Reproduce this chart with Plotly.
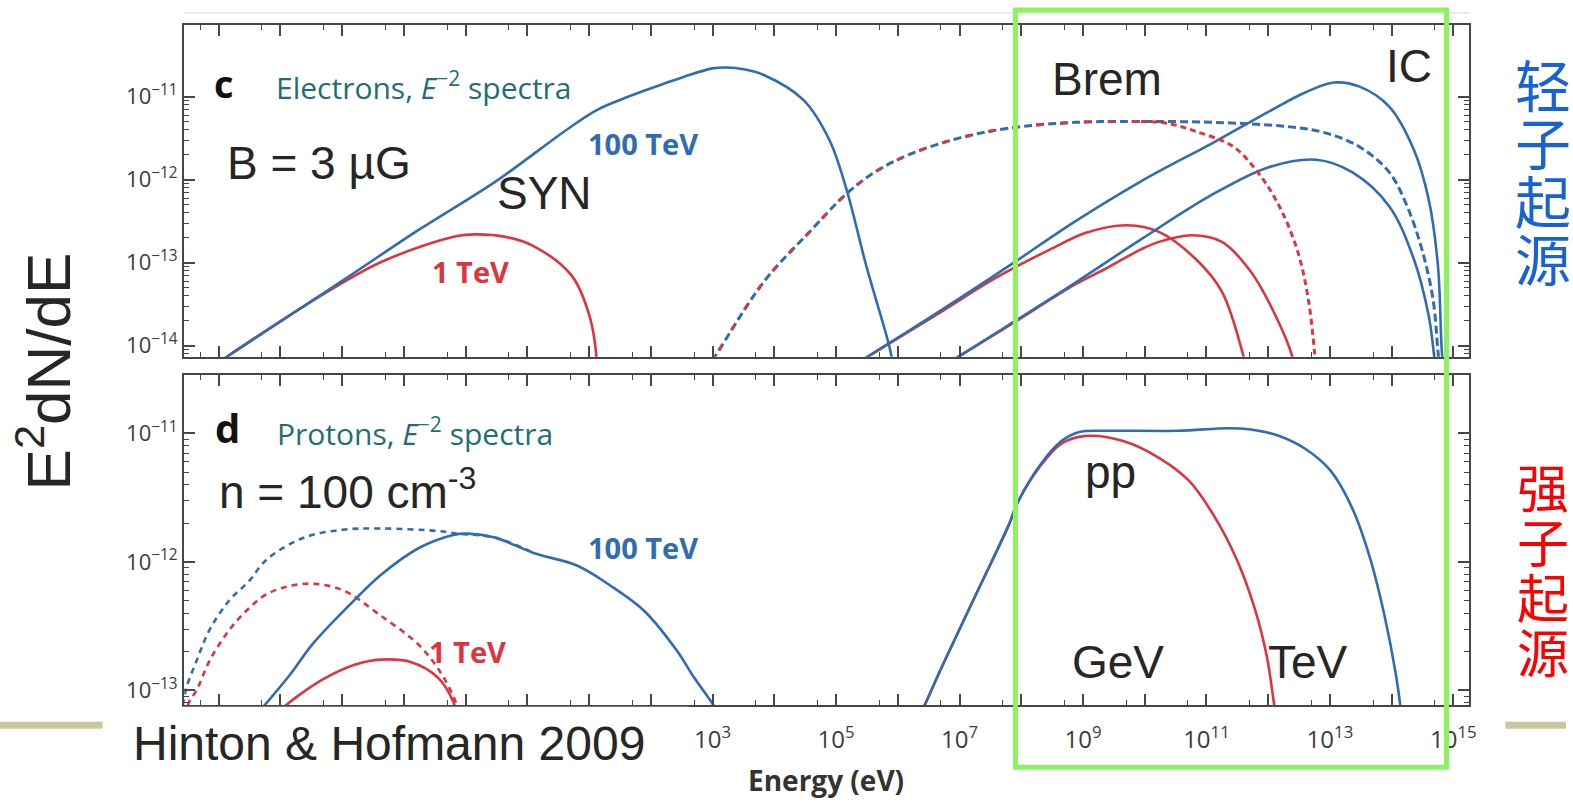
import plotly.graph_objects as go

W, H = 1573, 804

# ---------------- panel c : electrons, E^-2 spectra (log10 E [eV], log10 E^2 dN/dE) ----------------
syn_100tev_logE = [-4.90, -3.00, -1.75, -0.53, 0.71, 1.13, 1.50, 1.89, 2.54, 3.00, 3.23, 3.50, 3.83, 4.47, 4.89, 5.17, 5.49, 5.86, 5.92]
syn_100tev_logF = [-14.15, -13.22, -12.60, -12.03, -11.36, -11.16, -11.04, -10.93, -10.76, -10.66, -10.65, -10.67, -10.74, -11.04, -11.52, -12.12, -13.04, -14.00, -14.22]

syn_1tev_logE = [-4.90, -3.61, -2.36, -1.14, -0.83, -0.35, 0.10, 0.72, 1.02, 1.13]
syn_1tev_logF = [-14.15, -13.52, -12.99, -12.68, -12.66, -12.69, -12.80, -13.16, -13.68, -14.22]

brem_shared_logE = [2.89, 3.04, 3.83, 4.57, 5.17, 5.65, 6.18, 6.99, 7.80, 8.88, 9.94]
brem_shared_logF = [-14.30, -14.13, -13.23, -12.63, -12.17, -11.90, -11.70, -11.50, -11.38, -11.31, -11.30]
brem_1tev_tail_logE = [10.36, 10.83, 11.43, 11.83, 12.18, 12.48, 12.65, 12.75, 12.78]
brem_1tev_tail_logF = [-11.32, -11.42, -11.60, -11.91, -12.32, -12.87, -13.44, -14.07, -14.30]
brem_100tev_tail_logE = [11.12, 12.30, 12.89, 13.47, 13.96, 14.25, 14.49, 14.67, 14.75, 14.78]
brem_100tev_tail_logF = [-11.31, -11.36, -11.43, -11.60, -11.91, -12.32, -12.84, -13.44, -14.07, -14.30]

ic_a_100tev_logE = [5.16, 5.52, 6.73, 7.80, 8.88, 9.94, 11.12, 12.01, 12.60, 13.07, 13.48, 13.96, 14.36, 14.60, 14.75, 14.81, 14.84]
ic_a_100tev_logF = [-14.30, -14.13, -13.56, -13.04, -12.50, -12.02, -11.55, -11.18, -10.95, -10.83, -10.88, -11.12, -11.64, -12.24, -13.04, -14.04, -14.30]
ic_a_1tev_logE = [5.16, 5.52, 6.73, 7.57, 8.47, 9.05, 9.71, 10.23, 10.83, 11.25, 11.60, 11.65]
ic_a_1tev_logF = [-14.30, -14.13, -13.58, -13.19, -12.84, -12.64, -12.55, -12.63, -12.96, -13.35, -14.13, -14.30]

ic_b_100tev_logE = [6.63, 6.99, 7.80, 8.88, 9.94, 11.12, 12.01, 12.78, 13.36, 13.96, 14.36, 14.60, 14.68, 14.71]
ic_b_100tev_logF = [-14.30, -14.13, -13.75, -13.24, -12.72, -12.17, -11.85, -11.76, -11.91, -12.32, -12.96, -13.64, -14.07, -14.30]
ic_b_1tev_logE = [6.63, 6.99, 7.80, 8.88, 9.35, 9.94, 10.23, 10.76, 11.25, 11.72, 12.12, 12.39, 12.43]
ic_b_1tev_logF = [-14.30, -14.13, -13.76, -13.26, -13.08, -12.84, -12.75, -12.67, -12.75, -13.11, -13.64, -14.13, -14.30]

# ---------------- panel d : protons, E^-2 spectra ----------------
sec_100tev_logE = [-5.60, -5.53, -5.36, -5.15, -4.83, -4.51, -4.22, -3.61, -2.99, -2.37, -1.45, -1.14, -0.53, 0.10]
sec_100tev_logF = [-13.20, -12.99, -12.77, -12.53, -12.30, -12.15, -11.98, -11.81, -11.75, -11.74, -11.76, -11.78, -11.81, -11.93]
sec_1tev_logE = [-5.55, -5.48, -5.36, -5.15, -4.83, -4.51, -4.22, -3.87, -3.48, -2.99, -2.37, -1.75, -1.38, -1.16, -1.10]
sec_1tev_logF = [-13.20, -13.09, -13.00, -12.77, -12.53, -12.36, -12.25, -12.19, -12.17, -12.22, -12.42, -12.65, -12.88, -13.09, -13.17]

syn_p_100tev_logE = [-4.32, -3.85, -3.48, -2.87, -2.37, -1.75, -1.20, -0.96, -0.53, 0.10, 0.81, 1.33, 1.89, 2.42, 2.70, 3.02, 3.07]
syn_p_100tev_logF = [-13.15, -12.88, -12.64, -12.33, -12.10, -11.89, -11.79, -11.78, -11.81, -11.93, -12.03, -12.18, -12.38, -12.69, -12.90, -13.12, -13.17]
syn_p_1tev_logE = [-4.00, -3.71, -3.30, -2.80, -2.37, -1.88, -1.45, -1.20, -1.16]
syn_p_1tev_logF = [-13.15, -13.04, -12.91, -12.80, -12.76, -12.78, -12.90, -13.09, -13.17]

pp_100tev_logE = [6.38, 6.43, 6.73, 7.26, 7.80, 7.94, 8.30, 8.65, 8.94, 9.36, 10.54, 11.36, 11.72, 12.18, 12.60, 13.01, 13.36, 13.65, 13.89, 14.07, 14.14, 14.15]
pp_100tev_logF = [-13.17, -13.12, -12.80, -12.26, -11.71, -11.54, -11.25, -11.06, -10.99, -10.98, -10.98, -10.96, -10.97, -11.02, -11.12, -11.29, -11.58, -11.97, -12.43, -12.88, -13.12, -13.17]
pp_1tev_logE = [6.38, 6.43, 6.73, 7.26, 7.80, 7.94, 8.30, 8.65, 9.05, 9.65, 10.23, 10.72, 11.12, 11.48, 11.78, 11.98, 12.10, 12.12]
pp_1tev_logF = [-13.17, -13.12, -12.80, -12.26, -11.71, -11.54, -11.26, -11.08, -11.02, -11.06, -11.19, -11.37, -11.64, -11.97, -12.36, -12.74, -13.12, -13.17]

# axis decades
x_decades = list(range(-5, 16))
c_decades = [-11, -12, -13, -14]
d_decades = [-11, -12, -13]

# ---------------- styling ----------------
BLUE = "#2f6db3"
RED = "#dd3440"
TEAL = "#1d6e77"
FRAME = "#474747"
INK = "#262626"
SANS = "Liberation Sans, Arial, sans-serif"
FIG_FONT = "Open Sans, Liberation Sans, sans-serif"
CJK = "Noto Sans CJK SC"

LEFT, RIGHT = 185, 1476
C_TOP, C_BOT = 25, 358
D_TOP, D_BOT = 376, 708
X_RANGE = [-5.56, 15.26]
C_RANGE = [-14.133, -10.136]
D_RANGE = [-13.116, -10.543]


def lin(vals):
    return [10.0 ** v for v in vals]


fig = go.Figure()


def curve(logE, logF, color, xa, ya, dash="solid", width=2.6):
    fig.add_trace(go.Scatter(
        x=lin(logE), y=lin(logF), mode="lines",
        line=dict(color=color, width=width, dash=dash, shape="spline", smoothing=1.0),
        xaxis=xa, yaxis=ya, hoverinfo="skip", showlegend=False))


# panel c
curve(syn_1tev_logE, syn_1tev_logF, RED, "x", "y")
curve(syn_100tev_logE, syn_100tev_logF, BLUE, "x", "y")
curve(ic_a_1tev_logE, ic_a_1tev_logF, RED, "x", "y")
curve(ic_b_1tev_logE, ic_b_1tev_logF, RED, "x", "y")
curve(ic_a_100tev_logE, ic_a_100tev_logF, BLUE, "x", "y")
curve(ic_b_100tev_logE, ic_b_100tev_logF, BLUE, "x", "y")
curve(brem_shared_logE + brem_100tev_tail_logE, brem_shared_logF + brem_100tev_tail_logF,
      BLUE, "x", "y", dash="8px,4px", width=3)
curve(brem_shared_logE, brem_shared_logF, RED, "x", "y", dash="6px,18px", width=3)
curve(brem_shared_logE[-1:] + brem_1tev_tail_logE, brem_shared_logF[-1:] + brem_1tev_tail_logF,
      RED, "x", "y", dash="6px,4px", width=3)

# panel d
curve(sec_1tev_logE, sec_1tev_logF, RED, "x2", "y2", dash="6px,5px")
curve(sec_100tev_logE, sec_100tev_logF, BLUE, "x2", "y2", dash="6px,5px")
curve(syn_p_1tev_logE, syn_p_1tev_logF, RED, "x2", "y2")
curve(syn_p_100tev_logE, syn_p_100tev_logF, BLUE, "x2", "y2")
curve(pp_1tev_logE, pp_1tev_logF, RED, "x2", "y2")
curve(pp_100tev_logE, pp_100tev_logF, BLUE, "x2", "y2")

# ---------------- axes ----------------
tick_font = dict(family=FIG_FONT, size=22, color="#3c3c3c")
x_minor = dict(tickmode="array", tickvals=[5 * 10.0 ** n for n in range(-6, 15)],
               ticks="inside", ticklen=5, tickwidth=1.3, tickcolor=FRAME, showgrid=False)


def y_minor(decades):
    vals = [k * 10.0 ** (n - 1) for n in decades + [min(decades)] for k in range(2, 10)]
    return dict(tickmode="array", tickvals=vals, ticks="inside", ticklen=5,
                tickwidth=1.2, tickcolor=FRAME, showgrid=False)


def frame_axis(**kw):
    base = dict(type="log", showline=True, linecolor=FRAME, linewidth=2.2, mirror="ticks",
                ticks="inside", ticklen=11, tickwidth=1.6, tickcolor=FRAME,
                showgrid=False, zeroline=False, tickfont=tick_font)
    base.update(kw)
    return base


x_vals = [10.0 ** n for n in x_decades]
# only the odd decades from 10^3 upward carry a label
x_text = [f"10<sup>{n}</sup>" if (n % 2 and n >= 3) else "" for n in x_decades]

fig.update_layout(
    width=W, height=H, margin=dict(l=0, r=0, t=0, b=0), autosize=False,
    paper_bgcolor="white", plot_bgcolor="white", showlegend=False,
    xaxis=frame_axis(domain=[LEFT / W, RIGHT / W], range=X_RANGE, anchor="y",
                     tickmode="array", tickvals=x_vals, showticklabels=False, minor=x_minor),
    yaxis=frame_axis(domain=[1 - C_BOT / H, 1 - C_TOP / H], range=C_RANGE, anchor="x",
                     tickmode="array", tickvals=[10.0 ** n for n in c_decades],
                     ticktext=[f"10<sup>\u2212{-n}</sup>" for n in c_decades],
                     minor=y_minor(c_decades)),
    xaxis2=frame_axis(domain=[LEFT / W, RIGHT / W], range=X_RANGE, anchor="y2",
                      tickmode="array", tickvals=x_vals, ticktext=x_text, minor=x_minor,
                      ticklabelstandoff=12, tickfont=dict(family=FIG_FONT, size=24, color="#3c3c3c")),
    yaxis2=frame_axis(domain=[1 - D_BOT / H, 1 - D_TOP / H], range=D_RANGE, anchor="x2",
                      tickmode="array", tickvals=[10.0 ** n for n in d_decades],
                      ticktext=[f"10<sup>\u2212{-n}</sup>" for n in d_decades],
                      minor=y_minor(d_decades)),
)


def px(x):
    return x / W


def py(y):
    return 1 - y / H


# ---------------- overlays ----------------
shapes = [
    # faint rule above the figure
    dict(type="line", x0=px(185), x1=px(1477), y0=py(13), y1=py(13),
         line=dict(color="#e4e4e4", width=1.5)),
    # white band over the low-energy end of the energy axis
    dict(type="rect", x0=px(103), x1=px(692), y0=py(709.5), y1=py(804),
         fillcolor="white", line=dict(width=0)),
    # olive slide rules
    dict(type="line", x0=px(0), x1=px(103), y0=py(728), y1=py(728),
         line=dict(color="#c9c89c", width=7)),
    dict(type="line", x0=px(1512), x1=px(1573), y0=py(728), y1=py(728),
         line=dict(color="#c9c89c", width=7)),
    # green highlight box
    dict(type="rect", x0=px(1020), x1=px(1453), y0=py(770), y1=py(10),
         line=dict(color="#8cf25e", width=5)),
]
for s in shapes:
    s.update(xref="paper", yref="paper", layer="above")
fig.update_layout(shapes=shapes)


def note(text, x, y, size, color=INK, family=SANS, xanchor="center", angle=0):
    fig.add_annotation(text=text, x=px(x), y=py(y), xref="paper", yref="paper",
                       showarrow=False, xanchor=xanchor, yanchor="middle", textangle=angle,
                       font=dict(family=family, size=size, color=color))


def vertical_word(word, x, y_mid, step, glyph, color):
    # stacked characters; the base size sets the line pitch, the span sets the glyph size
    body = "<br>".join(f'<span style="font-size:{glyph}px">{ch}</span>' for ch in word)
    note(body, x, y_mid, step / 1.3, color, CJK)


# figure labels
note("<b>c</b>", 225, 83, 38, "#111", FIG_FONT)
note("Electrons, <i>E</i><sup>\u22122</sup> spectra", 275, 86, 30, TEAL, FIG_FONT, xanchor="left")
note("<b>d</b>", 229, 429, 40, "#111", FIG_FONT)
note("Protons, <i>E</i><sup>\u22122</sup> spectra", 276, 434, 30, TEAL, FIG_FONT, xanchor="left")
note("<b>100 TeV</b>", 646, 144, 29, BLUE, FIG_FONT)
note("<b>1 TeV</b>", 473, 273, 29, RED, FIG_FONT)
note("<b>100 TeV</b>", 646, 550, 29, BLUE, FIG_FONT)
note("<b>1 TeV</b>", 470, 654, 29, RED, FIG_FONT)
note("<b>Energy (eV)</b>", 830, 783, 28, "#333", FIG_FONT)

# slide annotations
note("B = 3 \u00b5G", 226, 164, 46, xanchor="left")
note("SYN", 497, 194, 46, xanchor="left")
note("Brem", 1055, 79, 46, xanchor="left")
note("IC", 1390, 66, 46, xanchor="left")
note("n = 100 cm<sup>-3</sup>", 218, 491, 46, xanchor="left")
note("pp", 1088, 474, 46, xanchor="left")
note("GeV", 1075, 664, 46, xanchor="left")
note("TeV", 1272, 664, 46, xanchor="left")
note("Hinton &amp; Hofmann 2009", 132, 746, 48, xanchor="left")
note("E<sup>2</sup>dN/dE", 44, 373, 62, angle=-90)

vertical_word("轻子起源", 1550, 170, 58, 56, "#1763d6")
vertical_word("强子起源", 1550, 570, 55, 52, "#ff0000")

fig.write_html("out.html")
